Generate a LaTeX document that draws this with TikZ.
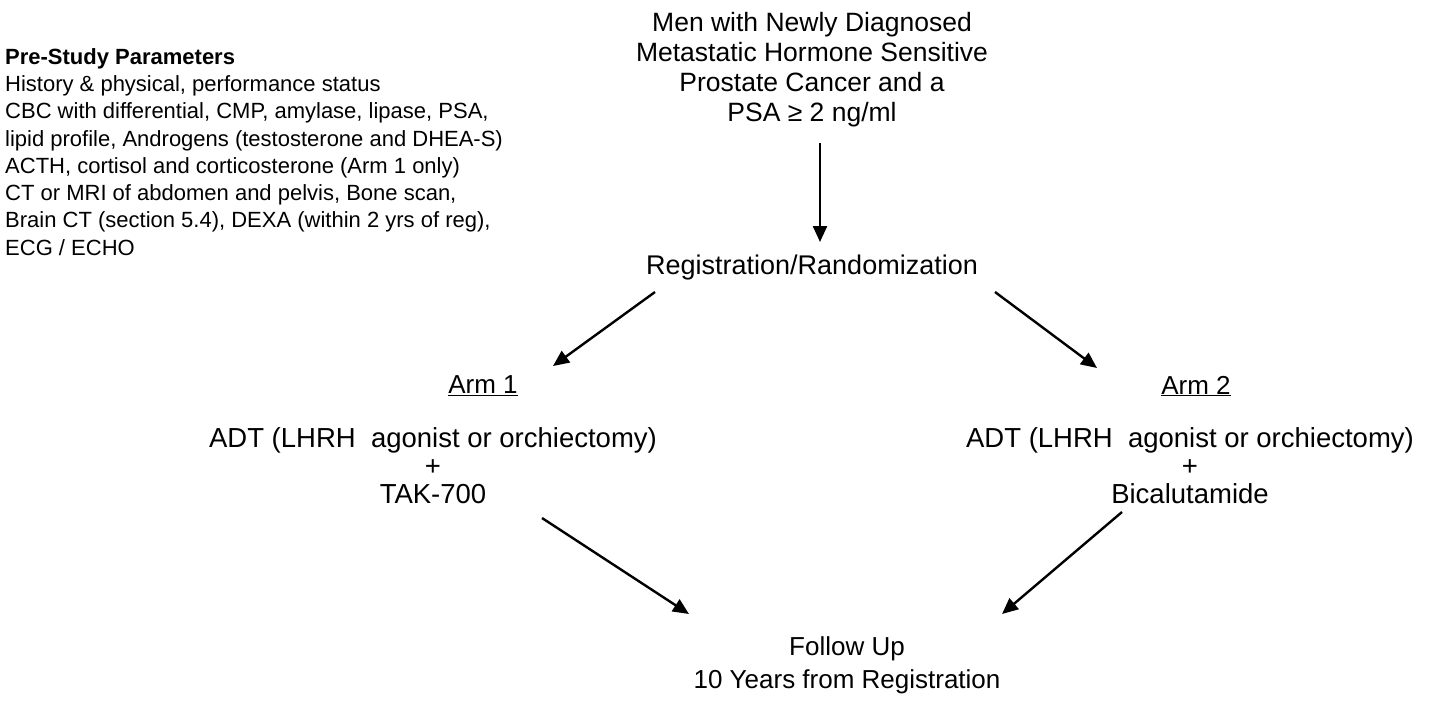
\documentclass[tikz,border=0pt]{standalone}
\usepackage{fontspec}
\setmainfont{Liberation Sans}
\usetikzlibrary{arrows.meta}
\begin{document}
\begin{tikzpicture}[x=1pt,y=-1pt,
  lbl/.style={inner sep=0pt,align=center,font=\fontsize{26}{30}\selectfont},
  arr/.style={line width=2.4pt,-{Triangle[length=16pt,width=14pt]}}]
\useasboundingbox[fill=white] (0,0) rectangle (1442,704);
\node[inner sep=0pt,anchor=north west,align=left,font=\fontsize{22}{27.3}\selectfont] (pre) at (5,48)
 {\textbf{Pre-Study Parameters}\\
 History \& physical, performance status\\
 CBC with differential, CMP, amylase, lipase, PSA,\\
 lipid profile, Androgens (testosterone and DHEA-S)\\
 ACTH, cortisol and corticosterone (Arm 1 only)\\
 CT or MRI of abdomen and pelvis, Bone scan,\\
 Brain CT (section 5.4), DEXA (within 2 yrs of reg),\\
 ECG / ECHO};
\node[lbl,anchor=north,font=\fontsize{26.5}{30}\selectfont] (men) at (812,12) {Men with Newly Diagnosed\\Metastatic Hormone Sensitive\\Prostate Cancer and a\\PSA ≥ 2 ng/ml};
\node[lbl,font=\fontsize{27}{30}\selectfont] (reg) at (812,268) {Registration/Randomization};
\node[lbl] (arm1) at (483,386) {\underline{Arm 1}};
\node[lbl] (arm2) at (1196,386) {\underline{Arm 2}};
\node[lbl,anchor=north,font=\fontsize{27.5}{28}\selectfont] (t1) at (433,427) {ADT (LHRH\ \ agonist\ or orchiectomy)\\+\\TAK-700};
\node[lbl,anchor=north,font=\fontsize{27.5}{28}\selectfont] (t2) at (1190,427) {ADT (LHRH\ \ agonist\ or orchiectomy)\\+\\Bicalutamide};
\node[lbl,anchor=north,font=\fontsize{26}{33}\selectfont] (fu) at (847,636) {Follow Up\\10 Years from Registration};
\coordinate (a0) at (820,143); \coordinate (a1) at (820,242);
\coordinate (b0) at (655,292); \coordinate (b1) at (553,366);
\coordinate (c0) at (995,292); \coordinate (c1) at (1097,368);
\coordinate (d0) at (542,518); \coordinate (d1) at (689,614);
\coordinate (e0) at (1122,512); \coordinate (e1) at (1002,614);
\draw[arr] (a0) -- (a1);
\draw[arr] (b0) -- (b1);
\draw[arr] (c0) -- (c1);
\draw[arr] (d0) -- (d1);
\draw[arr] (e0) -- (e1);
\end{tikzpicture}
\end{document}
